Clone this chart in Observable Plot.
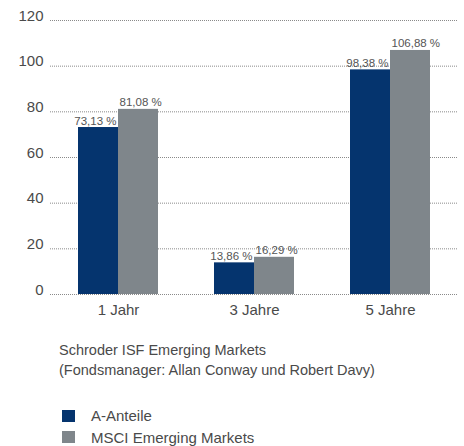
<!DOCTYPE html>
<html>
<head>
<meta charset="utf-8">
<script src="https://cdn.jsdelivr.net/npm/d3@7"></script>
<script src="https://cdn.jsdelivr.net/npm/@observablehq/plot@0.6"></script>
<style>
  body { margin: 0; background: #fff; font-family: "Liberation Sans", Arial, sans-serif; color: #4a4a4a; }
  #chart svg { display: block; }
  #caption { margin: 18px 0 0 59px; font-size: 14.5px; line-height: 20px; color: #4a4a4a; }
  #legend { margin: 25px 0 0 62px; font-size: 15px; color: #4a4a4a; }
  .row { display: flex; align-items: center; height: 21.5px; }
  .sw { width: 13px; height: 12px; margin-right: 16px; }
</style>
</head>
<body>
<div id="chart"></div>
<div id="caption">Schroder ISF Emerging Markets<br>(Fondsmanager: Allan Conway und Robert Davy)</div>
<div id="legend"></div>
<script>
const groups = ["1 Jahr", "3 Jahre", "5 Jahre"];
const seriesNames = ["A-Anteile", "MSCI Emerging Markets"];
const seriesColors = ["#05346e", "#7f868b"];
const fundValues = [73.13, 13.86, 98.38];
const indexValues = [81.08, 16.29, 106.88];
const yTicks = [0, 20, 40, 60, 80, 100, 120];

const fmt = v => v.toFixed(2).replace(".", ",") + " %";
const rows = [];
groups.forEach((g, i) => {
  rows.push({group: g, series: seriesNames[0], value: fundValues[i], label: fmt(fundValues[i])});
  rows.push({group: g, series: seriesNames[1], value: indexValues[i], label: fmt(indexValues[i])});
});

const chart = Plot.plot({
  width: 464,
  height: 322,
  marginLeft: 50,
  marginRight: 6,
  marginTop: 20,
  marginBottom: 28,
  style: {fontFamily: "Liberation Sans, Arial, sans-serif", color: "#4a4a4a", background: "#fff"},
  fx: {domain: groups, padding: 0, label: null},
  x: {domain: seriesNames, paddingInner: 0, paddingOuter: 0.659, axis: null},
  y: {domain: [0, 120], label: null},
  color: {domain: seriesNames, range: seriesColors},
  marks: [
    Plot.ruleY(yTicks, {stroke: "#8a8a8a", strokeDasharray: "1,1", strokeWidth: 1}),
    Plot.barY(rows, {fx: "group", x: "series", y: "value", fill: "series"}),
    Plot.text(rows.filter(d => d.series === seriesNames[0]), {fx: "group", x: "series", y: "value", text: "label", textAnchor: "end", lineAnchor: "bottom", dx: 18, dy: -3, fontSize: 11.5, fill: "#555"}),
    Plot.text(rows.filter(d => d.series === seriesNames[1]), {fx: "group", x: "series", y: "value", text: "label", textAnchor: "start", lineAnchor: "bottom", dx: -19, dy: -3, fontSize: 11.5, fill: "#555"}),
    Plot.axisY(yTicks, {tickSize: 0, tickPadding: 7, lineAnchor: "bottom", fontSize: 15, fill: "#4a4a4a", label: null}),
    Plot.axisFx({anchor: "bottom", tickSize: 0, tickPadding: 10, fontSize: 15, fill: "#4a4a4a", label: null})
  ]
});
document.getElementById("chart").appendChild(chart);

const legend = document.getElementById("legend");
seriesNames.forEach((s, i) => {
  const row = document.createElement("div");
  row.className = "row";
  const sw = document.createElement("div");
  sw.className = "sw";
  sw.style.background = seriesColors[i];
  const t = document.createElement("span");
  t.textContent = s;
  row.appendChild(sw);
  row.appendChild(t);
  legend.appendChild(row);
});
</script>
</body>
</html>
